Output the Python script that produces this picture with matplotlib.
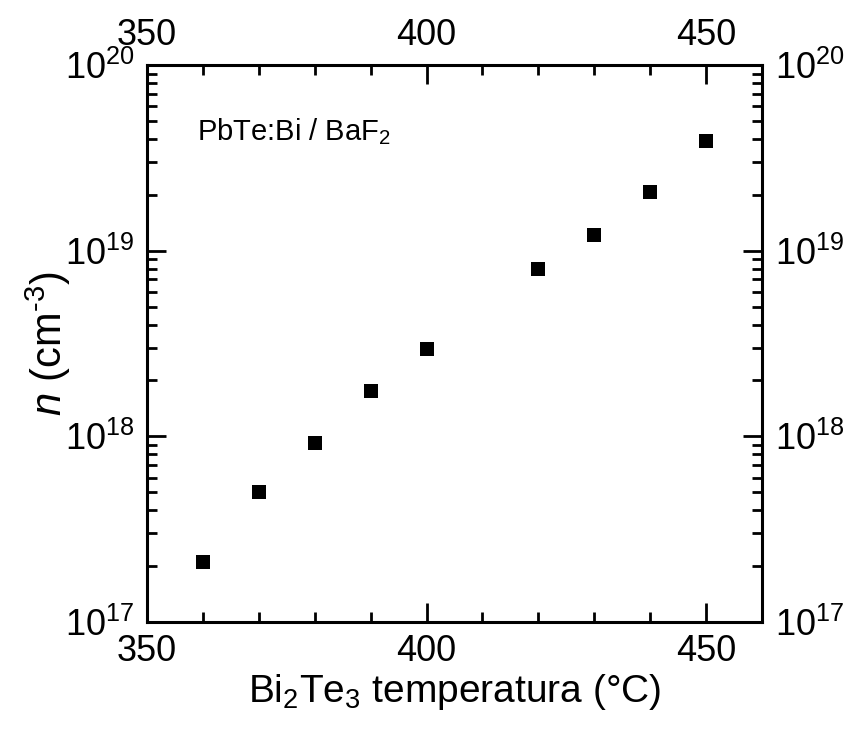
import numpy as np
import matplotlib
matplotlib.use("Agg")
from matplotlib import pyplot as plt
from matplotlib.ticker import MultipleLocator, LogLocator, NullFormatter

plt.rcParams['font.family'] = ['Liberation Sans', 'DejaVu Sans']
plt.rcParams['mathtext.fontset'] = 'custom'
plt.rcParams['mathtext.rm'] = 'Liberation Sans'
plt.rcParams['mathtext.it'] = 'Liberation Sans:italic'
plt.rcParams['mathtext.default'] = 'regular'

# Bi2Te3 source temperature (C) and carrier concentration (cm^-3)
temperature = [360, 370, 380, 390, 400, 420, 430, 440, 450]
concentration = [2.1e17, 5.0e17, 9.2e17, 1.75e18, 2.95e18, 8.0e18, 1.22e19, 2.08e19, 3.9e19]

fig = plt.figure(figsize=(8.47, 7.29), dpi=100)
ax = fig.add_axes([0.1736, 0.1468, 0.7261, 0.764])

ax.plot(temperature, concentration, 's', color='black', markersize=10, markeredgewidth=0)

ax.set_yscale('log')
ax.set_xlim(350, 460)
ax.set_ylim(1e17, 1e20)

ax.xaxis.set_major_locator(MultipleLocator(50))
ax.xaxis.set_minor_locator(MultipleLocator(10))
ax.yaxis.set_major_locator(LogLocator(base=10, numticks=10))
ax.yaxis.set_minor_locator(LogLocator(base=10, subs=np.arange(2, 10), numticks=10))
ax.yaxis.set_minor_formatter(NullFormatter())

ax.tick_params(which='both', direction='in', top=True, right=True,
               labeltop=True, labelright=True, labelsize=26, width=2)
ax.tick_params(which='major', length=14, pad=9)
ax.tick_params(which='minor', length=7)
for s in ax.spines.values():
    s.set_linewidth(2.2)

ax.set_xlabel('Bi$_2$Te$_3$ temperatura (°C)', fontsize=28, labelpad=2)
ax.set_ylabel('$\\mathit{n}$ (cm$^{\\text{-}3}$)', fontsize=30, labelpad=-6)

ax.text(0.081, 0.865, 'PbTe:Bi / BaF$_2$', transform=ax.transAxes, fontsize=21)

fig.savefig('out.png', dpi=100)
